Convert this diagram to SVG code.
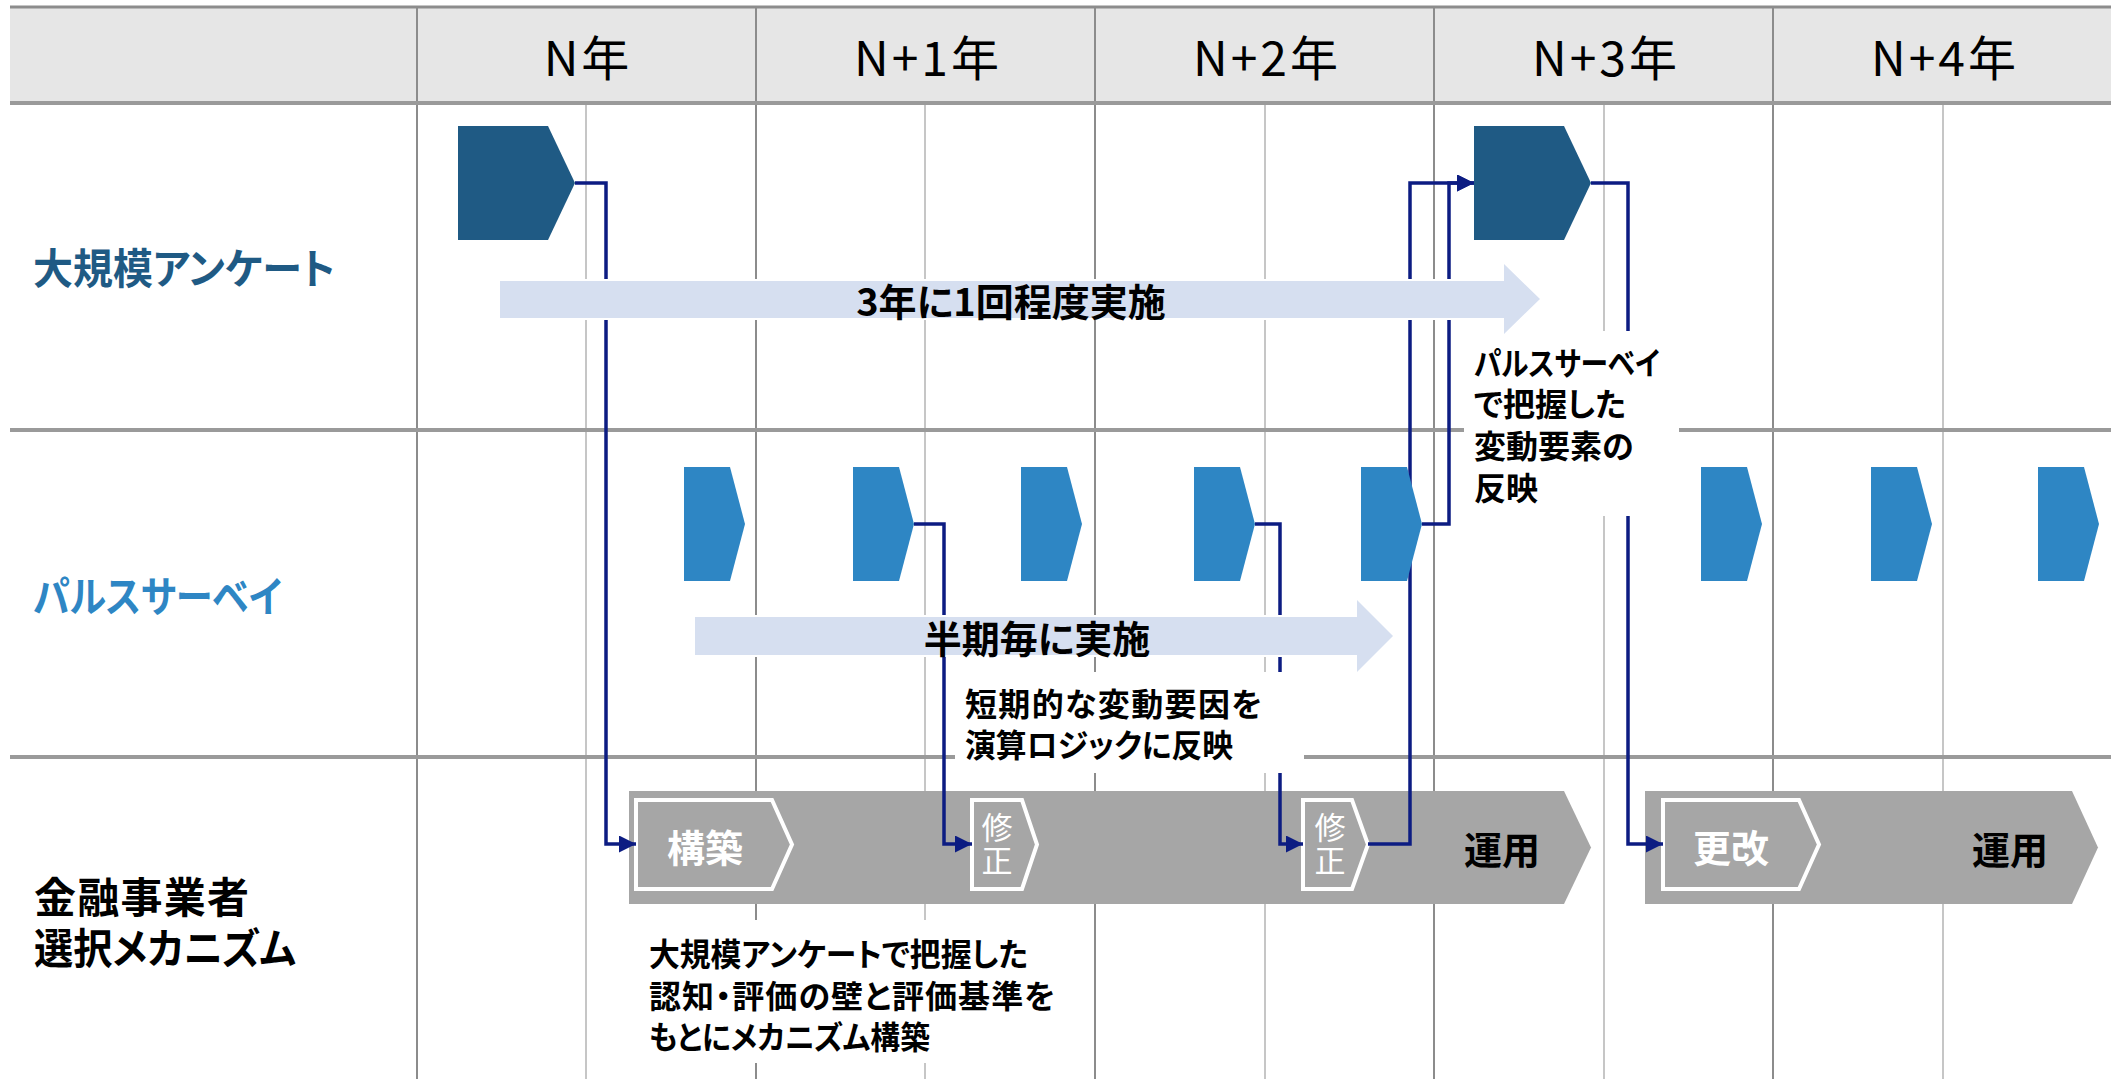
<svg xmlns="http://www.w3.org/2000/svg" width="2123" height="1079" viewBox="0 0 2123 1079">
<style>
text{font-family:"Noto Sans CJK JP","Noto Sans",sans-serif;dominant-baseline:central;font-feature-settings:"palt";}
.hdr{font-size:48px;fill:#000;text-anchor:middle;letter-spacing:3px;}
.row{font-size:42px;font-weight:bold;}
.arrtxt{font-size:38px;font-weight:bold;fill:#000;text-anchor:middle;}
.note{font-size:32px;font-weight:bold;fill:#000;}
.inw{font-size:38px;font-weight:bold;fill:#fff;text-anchor:middle;}
.inv{font-size:31px;fill:#fff;text-anchor:middle;writing-mode:vertical-rl;letter-spacing:2px;}
.unyo{font-size:38px;font-weight:bold;fill:#000;text-anchor:middle;}
.major{stroke:#8c8c8c;stroke-width:2;}
.minor{stroke:#c6c6c6;stroke-width:2;}
.sep{stroke:#9a9a9a;stroke-width:4;}
.big{fill:#1f5a84;}
.pulse{fill:#2e86c4;}
.band{fill:#a6a6a6;}
.inner{fill:none;stroke:#fff;stroke-width:4;}
.light{fill:#d6dff0;stroke:#fff;stroke-width:4;paint-order:stroke;}
.box{fill:#fff;}
.conn{fill:none;stroke:#0c1c82;stroke-width:3.5;marker-end:url(#ah);}
</style>
<defs>
<marker id="ah" markerUnits="userSpaceOnUse" markerWidth="17" markerHeight="17" viewBox="0 0 17 17" refX="17" refY="8.5" orient="auto">
<path d="M0,0 L17,8.5 L0,17 z" fill="#0c1c82"/>
</marker>
</defs>
<rect width="2123" height="1079" fill="#fff"/>
<g id="grid">
<rect x="10" y="7" width="2101" height="96" fill="#e6e6e6"/>
<line class="minor" x1="586" y1="103" x2="586" y2="1079"/>
<line class="minor" x1="925" y1="103" x2="925" y2="1079"/>
<line class="minor" x1="1265" y1="103" x2="1265" y2="1079"/>
<line class="minor" x1="1604" y1="103" x2="1604" y2="1079"/>
<line class="minor" x1="1943" y1="103" x2="1943" y2="1079"/>
<line class="major" x1="417" y1="7" x2="417" y2="1079"/>
<line class="major" x1="756" y1="7" x2="756" y2="1079"/>
<line class="major" x1="1095" y1="7" x2="1095" y2="1079"/>
<line class="major" x1="1434" y1="7" x2="1434" y2="1079"/>
<line class="major" x1="1773" y1="7" x2="1773" y2="1079"/>
<line x1="10" y1="7" x2="2111" y2="7" stroke="#8c8c8c" stroke-width="3"/>
<line class="sep" x1="10" y1="103" x2="2111" y2="103"/>
<line class="sep" x1="10" y1="430" x2="2111" y2="430"/>
<line class="sep" x1="10" y1="757" x2="2111" y2="757"/>
</g>
<g id="header">
<text class="hdr" x="588" y="55">N年</text>
<text class="hdr" x="928" y="55">N+1年</text>
<text class="hdr" x="1267" y="55">N+2年</text>
<text class="hdr" x="1606" y="55">N+3年</text>
<text class="hdr" x="1945" y="55">N+4年</text>
</g>
<g id="row-labels">
<text class="row" x="33" y="265" fill="#1f5a84" textLength="302" lengthAdjust="spacingAndGlyphs">大規模アンケート</text>
<text class="row" x="33" y="593" fill="#2e86c4" textLength="249" lengthAdjust="spacingAndGlyphs">パルスサーベイ</text>
<text class="row" fill="#000"><tspan x="34" y="894" textLength="215">金融事業者</tspan><tspan x="34" y="945" textLength="262" lengthAdjust="spacingAndGlyphs">選択メカニズム</tspan></text>
</g>
<g id="mechanism-band-1">
<polygon class="band" points="629,791 1564,791 1591,847.5 1564,904 629,904"/>
<text class="unyo" x="1502" y="847">運用</text>
</g>
<g id="mechanism-band-2">
<polygon class="band" points="1645,791 2072,791 2098,847.5 2072,904 1645,904"/>
<text class="unyo" x="2010" y="847">運用</text>
</g>
<g id="build">
<polygon class="inner" points="636,800 772,800 792,844.5 772,889 636,889"/>
<text class="inw" x="705" y="845">構築</text>
</g>
<g id="fix-1">
<polygon class="inner" points="972,800 1022,800 1037,844.5 1022,889 972,889"/>
<text class="inv" x="997" y="845">修正</text>
</g>
<g id="fix-2">
<polygon class="inner" points="1303,800 1352,800 1368,844.5 1352,889 1303,889"/>
<text class="inv" x="1330" y="845">修正</text>
</g>
<g id="renew">
<polygon class="inner" points="1663,800 1799,800 1819,844.5 1799,889 1663,889"/>
<text class="inw" x="1731" y="845">更改</text>
</g>
<g id="connectors">
<path class="conn" d="M575,183 H606 V844 H636"/>
<path class="conn" d="M914,524 H944 V844 H972"/>
<path class="conn" d="M1255,524 H1280 V844 H1303"/>
<path class="conn" d="M1368,844 H1410 V183 H1474"/>
<path class="conn" d="M1422,524 H1449 V183 H1474"/>
<path class="conn" d="M1591,183 H1628 V844 H1663"/>
</g>
<g id="note-pulse-reflect">
<rect class="box" x="1464" y="331" width="215" height="185"/>
<text class="note"><tspan x="1474" y="361" textLength="186" lengthAdjust="spacingAndGlyphs">パルスサーベイ</tspan><tspan x="1474" y="402">で把握した</tspan><tspan x="1474" y="444">変動要素の</tspan><tspan x="1474" y="486">反映</tspan></text>
</g>
<g id="note-short-term">
<rect class="box" x="955" y="672" width="349" height="101"/>
<text class="note"><tspan x="965" y="702" textLength="297">短期的な変動要因を</tspan><tspan x="965" y="743" textLength="268" lengthAdjust="spacingAndGlyphs">演算ロジックに反映</tspan></text>
</g>
<g id="note-build">
<rect class="box" x="640" y="920" width="435" height="143"/>
<text class="note"><tspan x="649" y="952" textLength="379" lengthAdjust="spacingAndGlyphs">大規模アンケートで把握した</tspan><tspan x="649" y="994" textLength="406">認知・評価の壁と評価基準を</tspan><tspan x="649" y="1035" textLength="281" lengthAdjust="spacingAndGlyphs">もとにメカニズム構築</tspan></text>
</g>
<g id="span-3year">
<polygon class="light" points="500,281 1504,281 1504,264 1540,299 1504,334 1504,318 500,318"/>
<text class="arrtxt" x="1011" y="299">3年に1回程度実施</text>
</g>
<g id="span-half">
<polygon class="light" points="695,617 1357,617 1357,600 1393,636 1357,672 1357,655 695,655"/>
<text class="arrtxt" x="1037" y="636">半期毎に実施</text>
</g>
<g id="survey-1"><polygon class="big" points="458,126 548,126 575,183 548,240 458,240"/></g>
<g id="survey-2"><polygon class="big" points="1474,126 1564,126 1591,183 1564,240 1474,240"/></g>
<g id="pulse-1"><polygon class="pulse" points="684,467 730,467 745,524 730,581 684,581"/></g>
<g id="pulse-2"><polygon class="pulse" points="853,467 899,467 914,524 899,581 853,581"/></g>
<g id="pulse-3"><polygon class="pulse" points="1021,467 1067,467 1082,524 1067,581 1021,581"/></g>
<g id="pulse-4"><polygon class="pulse" points="1194,467 1240,467 1255,524 1240,581 1194,581"/></g>
<g id="pulse-5"><polygon class="pulse" points="1361,467 1407,467 1422,524 1407,581 1361,581"/></g>
<g id="pulse-6"><polygon class="pulse" points="1701,467 1747,467 1762,524 1747,581 1701,581"/></g>
<g id="pulse-7"><polygon class="pulse" points="1871,467 1917,467 1932,524 1917,581 1871,581"/></g>
<g id="pulse-8"><polygon class="pulse" points="2038,467 2084,467 2099,524 2084,581 2038,581"/></g>
</svg>
